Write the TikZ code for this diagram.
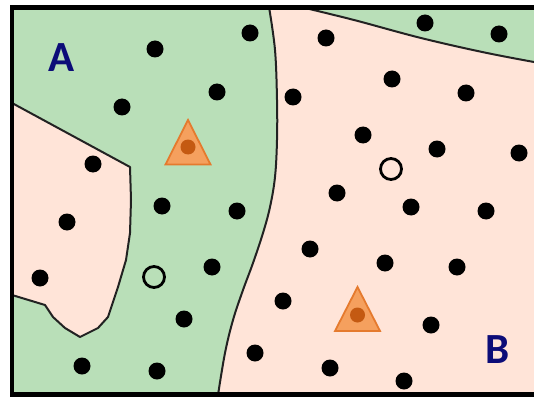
\documentclass[tikz,border=0pt]{standalone}
\usepackage{fontspec}
\newfontfamily\lblfont{Carlito}
\definecolor{greenA}{RGB}{185,223,184}
\definecolor{pinkB}{RGB}{255,228,216}
\definecolor{navy}{RGB}{12,12,120}
\definecolor{trifill}{RGB}{245,160,94}
\definecolor{tridraw}{RGB}{229,122,46}
\definecolor{triin}{RGB}{196,90,18}
\definecolor{bnd}{RGB}{34,34,34}
\begin{document}
\begin{tikzpicture}[x=1pt,y=-1pt,
  dot/.style={circle,fill=black,inner sep=0pt,minimum size=17pt},
  odot/.style={circle,draw=black,line width=2.8pt,fill=none,inner sep=0pt,minimum size=21pt},
  idot/.style={circle,fill=triin,inner sep=0pt,minimum size=15pt},
  tri/.style={fill=trifill,draw=tridraw,line width=1.8pt,line join=miter},
  bndline/.style={draw=bnd,line width=2pt,line join=round},
  lbl/.style={font=\lblfont\bfseries\fontsize{43}{43}\selectfont,text=navy,inner sep=0pt}]
\useasboundingbox (0,0) rectangle (534,398);
\begin{scope}
\clip (0,0) rectangle (534,398);
% background region A
\fill[greenA] (12,7.5) rectangle (545,394.5);
% region B
\fill[pinkB] plot[smooth,tension=0.6] coordinates {(269,7) (275,50) (277,100) (277,140) (275,177) (270,207) (263,233) (253,263) (243,290) (233,320) (225,353) (218,395)}
  -- (545,395) -- (545,64)
  -- plot[smooth,tension=0.6] coordinates {(545,64) (487,53) (421,38) (354,20) (301,7)} -- cycle;
\draw[bndline] plot[smooth,tension=0.6] coordinates {(269,7) (275,50) (277,100) (277,140) (275,177) (270,207) (263,233) (253,263) (243,290) (233,320) (225,353) (218,395)};
\draw[bndline] plot[smooth,tension=0.6] coordinates {(545,64) (487,53) (421,38) (354,20) (301,7)};
% left pink region
\fill[pinkB] (12,103) -- (130,167) -- (131,200) -- (130,233) -- (126,260) -- (118,287) -- (108,317) -- (98,328) -- (80,337) -- (65,328) -- (53,317) -- (45,305) -- (12,295) -- cycle;
\draw[bndline] (12,103) -- (130,167) -- (131,200) -- (130,233) -- (126,260) -- (118,287) -- (108,317) -- (98,328) -- (80,337) -- (65,328) -- (53,317) -- (45,305) -- (12,295);
% frame
\draw[line width=4.2pt,line join=miter] (545,7.5) -- (12,7.5) -- (12,394.5) -- (545,394.5);
\end{scope}
% dots
\foreach \x/\y [count=\i] in {155/49, 250/33, 217/92, 122/107, 162/206, 237/211, 212/267, 184/319, 82/366, 157/371,
  93/164, 67/222, 40/278, 425/23, 499/34,
  326/38, 293/97, 392/79, 466/93, 363/135, 437/149, 519/153, 337/193, 411/207, 486/211,
  310/249, 385/263, 457/267, 283/301, 431/325, 255/353, 330/368, 404/381}
  \node[dot] (d\i) at (\x,\y) {};
% open circles
\node[odot] (o1) at (391,169) {};
\node[odot] (o2) at (154,277) {};
% triangles
\draw[tri] (188,120) -- (210.5,164.5) -- (165.5,164.5) -- cycle;
\node[idot] (t1) at (188,147) {};
\draw[tri] (357.5,287) -- (380,331) -- (335,331) -- cycle;
\node[idot] (t2) at (357.5,315) {};
% labels
\node[lbl] (labA) at (62,58) {A};
\node[lbl] (labB) at (498,350) {B};
\end{tikzpicture}
\end{document}
